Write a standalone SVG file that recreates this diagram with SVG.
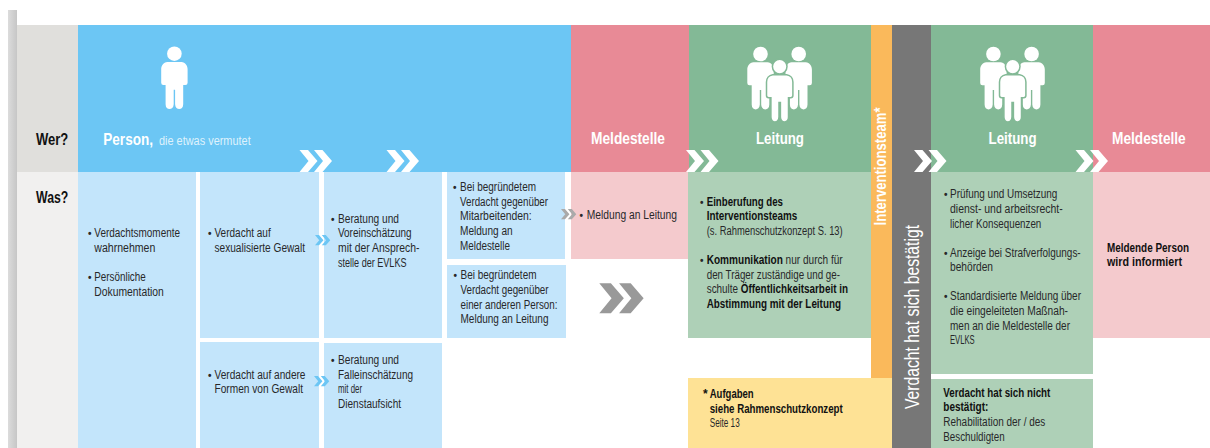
<svg xmlns="http://www.w3.org/2000/svg" width="1210" height="448" viewBox="0 0 1210 448">
<style>
text{font-family:"Liberation Sans",Arial,sans-serif;font-size:12px;fill:#28282a}
.b{font-weight:700;fill:#111}
.d{font-size:10px;font-weight:700}
.h{font-weight:700;font-size:16.500px;fill:#fff}
.q{font-weight:700;font-size:17px;fill:#111}
.lb{fill:#c3e5fb}.lp{fill:#f4cacd}.lg{fill:#aed0b7}
.w{fill:#fff}
</style>
<defs>
<linearGradient id="edgeG"><stop offset="0" stop-color="#dcdcdc"/><stop offset="1" stop-color="#c6c6c6"/></linearGradient>
<g id="chev"><path d="M0 0h8.500l9.500 11-9.500 11H0l9-11zM14.500 0h8.500l9.500 11-9.500 11h-8.500l9-11z"/></g>
<g id="man"><circle cx="0" cy="0" r="7.300"/><path d="M-7 8.200H7C11 8.700 13.200 12 13.200 15.500V29Q13.200 31.200 11 31.200H8.800V50.500C8.800 57 1 57 .7 50.500V36H-.7V50.500C-1 57-8.800 57-8.800 50.500V31.200H-11Q-13.200 31.200-13.200 29V15.500C-13.200 12-11 8.700-7 8.200Z"/></g>
</defs>
<rect id="edge" x="8" y="10" width="9" height="438" fill="url(#edgeG)"/>
<g id="labels">
<rect x="17" y="25" width="61" height="147" fill="#e0dfdc"/><rect x="17" y="172" width="61" height="276" fill="#f1f0ef"/>
<text class="q" x="36" y="145" textLength="32.300" lengthAdjust="spacingAndGlyphs">Wer?</text><text class="q" x="36" y="203" textLength="32.300" lengthAdjust="spacingAndGlyphs">Was?</text>
</g>
<g id="person"><rect x="78" y="25" width="493" height="147" fill="#6cc6f4"/>
<use href="#man" x="174.400" y="53.700" class="w"/>
<text class="h" x="103.300" y="145" style="font-size:17px" textLength="49.700" lengthAdjust="spacingAndGlyphs">Person,</text><text x="159" y="145" style="fill:#dff2fc;font-size:12.500px" textLength="91.700" lengthAdjust="spacingAndGlyphs">die etwas vermutet</text></g>
<g id="meldestelle1"><rect x="571" y="25" width="118" height="147" fill="#e88a96"/><text class="h" x="591" y="144" textLength="74" lengthAdjust="spacingAndGlyphs">Meldestelle</text></g>
<g id="leitung1"><rect x="689" y="25" width="182" height="147" fill="#83b996"/>
<g class="w"><use href="#man" x="760.500" y="54"/><use href="#man" x="798.700" y="54"/></g>
<use href="#man" x="779.700" y="66.600" stroke="#83b996" stroke-width="1.500" class="w"/>
<text class="h" x="756" y="144" textLength="48" lengthAdjust="spacingAndGlyphs">Leitung</text></g>
<g id="interventionsteam"><rect x="871" y="25" width="21" height="353" fill="#fab95b"/>
<text class="h" transform="translate(886 225.500) rotate(-90)" textLength="118" lengthAdjust="spacingAndGlyphs">Interventionsteam*</text></g>
<g id="bestaetigt"><rect x="892" y="25" width="39" height="423" fill="#777"/>
<text transform="translate(919 409) rotate(-90)" style="font-size:19.500px;fill:#fff" textLength="184" lengthAdjust="spacingAndGlyphs">Verdacht hat sich bestätigt</text></g>
<g id="leitung2"><rect x="931" y="25" width="162" height="147" fill="#83b996"/>
<g class="w"><use href="#man" x="993.400" y="54"/><use href="#man" x="1031.600" y="54"/></g>
<use href="#man" x="1012.700" y="66.600" stroke="#83b996" stroke-width="1.500" class="w"/>
<text class="h" x="988.600" y="144" textLength="48" lengthAdjust="spacingAndGlyphs">Leitung</text></g>
<g id="meldestelle2"><rect x="1093" y="25" width="117" height="147" fill="#e88a96"/><text class="h" x="1112" y="144" textLength="73.700" lengthAdjust="spacingAndGlyphs">Meldestelle</text></g>

<g id="box-wahrnehmen"><rect class="lb" x="78" y="172" width="118" height="276"/>
<text class="d" x="88" y="237">•</text><text x="94.300" y="237" textLength="85.700" lengthAdjust="spacingAndGlyphs">Verdachtsmomente</text><text x="94.300" y="252" textLength="61" lengthAdjust="spacingAndGlyphs">wahrnehmen</text><text class="d" x="88" y="281">•</text><text x="94.300" y="281" textLength="51.400" lengthAdjust="spacingAndGlyphs">Persönliche</text><text x="94.300" y="296" textLength="69.500" lengthAdjust="spacingAndGlyphs">Dokumentation</text></g>
<g id="box-sexualisiert"><rect class="lb" x="200" y="172" width="119" height="166"/>
<text class="d" x="208" y="237">•</text><text x="214.500" y="237" textLength="56.200" lengthAdjust="spacingAndGlyphs">Verdacht auf</text><text x="214.500" y="252" textLength="90.500" lengthAdjust="spacingAndGlyphs">sexualisierte Gewalt</text></g>
<g id="box-andere"><rect class="lb" x="200" y="342" width="119" height="106"/>
<text class="d" x="208" y="379">•</text><text x="214.500" y="379" textLength="91" lengthAdjust="spacingAndGlyphs">Verdacht auf andere</text><text x="214.500" y="393" textLength="88.500" lengthAdjust="spacingAndGlyphs">Formen von Gewalt</text></g>
<g id="box-ansprech"><rect class="lb" x="324" y="172" width="118" height="166"/>
<text class="d" x="331" y="223">•</text><text x="338" y="223" textLength="61" lengthAdjust="spacingAndGlyphs">Beratung und</text><text x="338" y="237" textLength="73.500" lengthAdjust="spacingAndGlyphs">Voreinschätzung</text><text x="338" y="252" textLength="81.500" lengthAdjust="spacingAndGlyphs">mit der Ansprech-</text><text x="338" y="267" textLength="68.500" lengthAdjust="spacingAndGlyphs">stelle der EVLKS</text></g>
<g id="box-dienstaufsicht"><rect class="lb" x="324" y="343" width="118" height="105"/>
<text class="d" x="331" y="364">•</text><text x="338" y="364" textLength="61" lengthAdjust="spacingAndGlyphs">Beratung und</text><text x="338" y="379" textLength="75" lengthAdjust="spacingAndGlyphs">Falleinschätzung</text><text x="338" y="393" textLength="24" lengthAdjust="spacingAndGlyphs">mit der</text><text x="338" y="408" textLength="63" lengthAdjust="spacingAndGlyphs">Dienstaufsicht</text></g>
<g id="box-mitarbeitende"><rect class="lb" x="447" y="172" width="118" height="87"/>
<text class="d" x="453" y="191">•</text><text x="460" y="191" textLength="76" lengthAdjust="spacingAndGlyphs">Bei begründetem</text><text x="460" y="206" textLength="88" lengthAdjust="spacingAndGlyphs">Verdacht gegenüber</text><text x="460" y="220" textLength="71.700" lengthAdjust="spacingAndGlyphs">Mitarbeitenden:</text><text x="460" y="235" textLength="52.700" lengthAdjust="spacingAndGlyphs">Meldung an</text><text x="460" y="250" textLength="50" lengthAdjust="spacingAndGlyphs">Meldestelle</text></g>
<g id="box-andere-person"><rect class="lb" x="447" y="265" width="119" height="73"/>
<text class="d" x="453.500" y="279">•</text><text x="460.500" y="279" textLength="76" lengthAdjust="spacingAndGlyphs">Bei begründetem</text><text x="460.500" y="294" textLength="88" lengthAdjust="spacingAndGlyphs">Verdacht gegenüber</text><text x="460.500" y="309" textLength="97" lengthAdjust="spacingAndGlyphs">einer anderen Person:</text><text x="460.500" y="323" textLength="88" lengthAdjust="spacingAndGlyphs">Meldung an Leitung</text></g>
<g id="box-meldung"><rect class="lp" x="571" y="172" width="117" height="87"/>
<text class="d" x="579.500" y="219">•</text><text x="586.700" y="219" textLength="90.300" lengthAdjust="spacingAndGlyphs">Meldung an Leitung</text></g>
<g id="box-einberufung"><rect class="lg" x="688" y="172" width="183" height="166"/>
<text class="d" x="700" y="206">•</text><text class="b" x="706.700" y="206" textLength="76.300" lengthAdjust="spacingAndGlyphs">Einberufung des</text><text class="b" x="706.700" y="220" textLength="90.600" lengthAdjust="spacingAndGlyphs">Interventionsteams</text><text x="706.700" y="235" textLength="136" lengthAdjust="spacingAndGlyphs">(s. Rahmenschutzkonzept S. 13)</text>
<text class="d" x="700" y="264">•</text><text x="706.700" y="264" textLength="136" lengthAdjust="spacingAndGlyphs"><tspan class="b">Kommunikation</tspan> nur durch für</text><text x="706.700" y="279" textLength="133.300" lengthAdjust="spacingAndGlyphs">den Träger zuständige und ge-</text><text x="706.700" y="293" textLength="141.300" lengthAdjust="spacingAndGlyphs">schulte <tspan class="b">Öffentlichkeitsarbeit in</tspan></text><text class="b" x="706.700" y="308" textLength="134.300" lengthAdjust="spacingAndGlyphs">Abstimmung mit der Leitung</text></g>
<g id="box-aufgaben"><rect x="688" y="378" width="204" height="70" fill="#fee295"/>
<text class="b" x="703" y="398">*</text><text class="b" x="709.700" y="398" textLength="44" lengthAdjust="spacingAndGlyphs">Aufgaben</text><text class="b" x="709.700" y="413" textLength="133" lengthAdjust="spacingAndGlyphs">siehe Rahmenschutzkonzept</text><text x="709.700" y="427" textLength="30" lengthAdjust="spacingAndGlyphs">Seite 13</text></g>
<g id="box-pruefung"><rect class="lg" x="931" y="172" width="162" height="202"/>
<text class="d" x="944" y="198">•</text><text x="950" y="198" textLength="107.300" lengthAdjust="spacingAndGlyphs">Prüfung und Umsetzung</text><text x="950" y="213" textLength="112.700" lengthAdjust="spacingAndGlyphs">dienst- und arbeitsrecht-</text><text x="950" y="228" textLength="91.300" lengthAdjust="spacingAndGlyphs">licher Konsequenzen</text>
<text class="d" x="944" y="257">•</text><text x="950" y="257" textLength="130.700" lengthAdjust="spacingAndGlyphs">Anzeige bei Strafverfolgungs-</text><text x="950" y="271" textLength="43" lengthAdjust="spacingAndGlyphs">behörden</text>
<text class="d" x="944" y="300">•</text><text x="950" y="300" textLength="131" lengthAdjust="spacingAndGlyphs">Standardisierte Meldung über</text><text x="950" y="315" textLength="118" lengthAdjust="spacingAndGlyphs">die eingeleiteten Maßnah-</text><text x="950" y="330" textLength="120" lengthAdjust="spacingAndGlyphs">men an die Meldestelle der</text><text x="950" y="344" textLength="24.700" lengthAdjust="spacingAndGlyphs">EVLKS</text></g>
<g id="box-rehabilitation"><rect class="lg" x="931" y="379" width="162" height="69"/>
<text class="b" x="943.300" y="397" textLength="107" lengthAdjust="spacingAndGlyphs">Verdacht hat sich nicht</text><text class="b" x="943.300" y="411" textLength="45" lengthAdjust="spacingAndGlyphs">bestätigt:</text><text x="943.300" y="426" textLength="102" lengthAdjust="spacingAndGlyphs">Rehabilitation der / des</text><text x="943.300" y="441" textLength="61.400" lengthAdjust="spacingAndGlyphs">Beschuldigten</text></g>
<g id="box-informiert"><rect class="lp" x="1093" y="172" width="117" height="166"/>
<text class="b" x="1107" y="252" textLength="82" lengthAdjust="spacingAndGlyphs">Meldende Person</text><text class="b" x="1107" y="266" textLength="75" lengthAdjust="spacingAndGlyphs">wird informiert</text></g>

<g id="connectors">
<use href="#chev" x="299.500" y="150" fill="#fff"/><use href="#chev" x="386.500" y="150" fill="#fff"/><use href="#chev" x="686" y="150" fill="#fff"/><use href="#chev" x="914" y="150" fill="#fff"/><use href="#chev" x="1075.500" y="150" fill="#fff"/>
<use href="#chev" transform="translate(599.300 283.300) scale(1.364)" fill="#999"/>
<use href="#chev" transform="translate(561 209) scale(.47)" fill="#aaa"/>
<use href="#chev" transform="translate(315 235) scale(.47)" fill="#6cc6f4"/>
<use href="#chev" transform="translate(314 376) scale(.47)" fill="#6cc6f4"/>
</g>
</svg>
